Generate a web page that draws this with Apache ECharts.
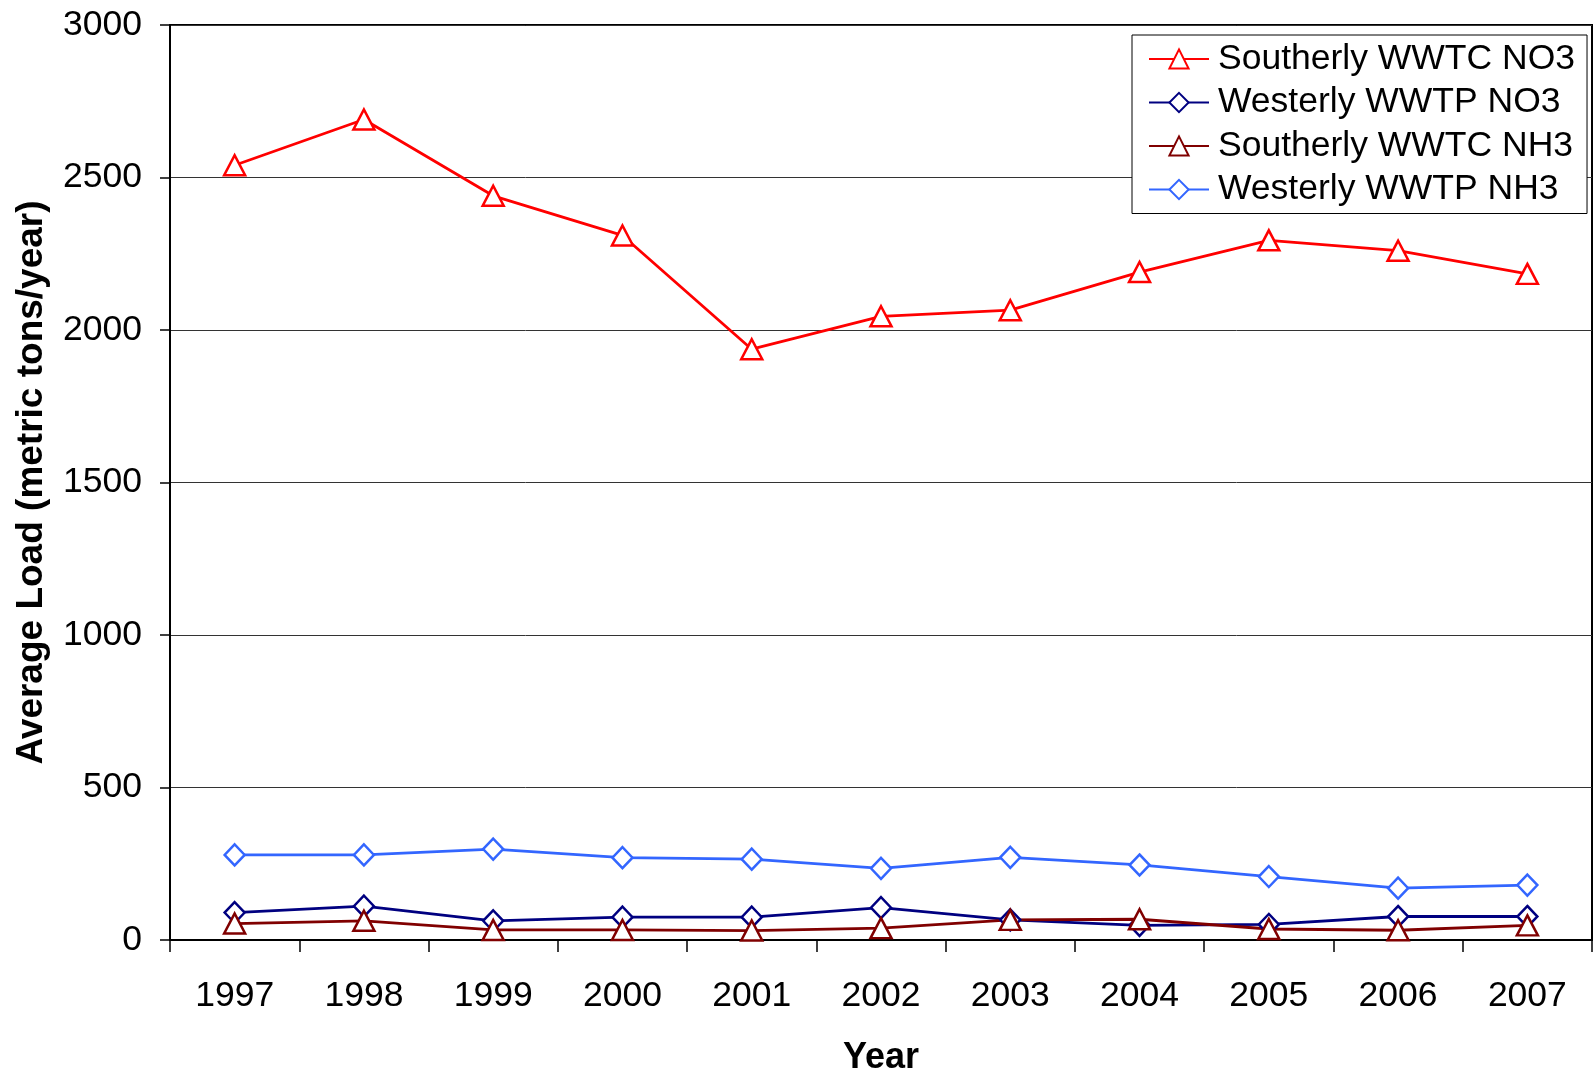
<!DOCTYPE html>
<html>
<head>
<meta charset="utf-8">
<script src="https://cdn.jsdelivr.net/npm/echarts@6/dist/echarts.min.js"></script>
<style>
  html, body { margin: 0; padding: 0; background: #fff; }
  #chart { width: 1594px; height: 1074px; }
</style>
</head>
<body>
<div id="chart"></div>
<script>
// data
const years = ['1997', '1998', '1999', '2000', '2001', '2002', '2003', '2004', '2005', '2006', '2007'];

const southerlyNO3 = [2540, 2690, 2440, 2310, 1937, 2045, 2065, 2190, 2294, 2260, 2184];
const westerlyNO3 = [90, 111, 63, 75, 75, 106, 66, 48, 51, 77, 77];
const southerlyNH3 = [54, 63, 33, 33, 31, 39, 66, 68, 36, 32, 48];
const westerlyNH3 = [279, 279, 298, 270, 265, 235, 271, 246, 208, 170, 180];

const FONT = "'Liberation Sans', Arial, sans-serif";

const makeSeries = (name, data, color, symbol, size) => ({
  name,
  type: 'line',
  data,
  symbol,
  symbolSize: size,
  showSymbol: true,
  lineStyle: { color, width: 2.8 },
  itemStyle: { color: '#fff', borderColor: color, borderWidth: 2.5 }
});

const chart = echarts.init(document.getElementById('chart'));

chart.setOption({
  animation: false,
  grid: {
    left: 170,
    right: 2,
    top: 25,
    bottom: 134,
    show: true,
    borderColor: '#000',
    borderWidth: 2,
    containLabel: false,
    outerBoundsMode: 'none'
  },
  legend: {
    left: 1132,
    top: 35,
    orient: 'vertical',
    backgroundColor: '#fff',
    borderColor: '#000',
    borderWidth: 1,
    padding: [4, 12, 4, 16],
    itemWidth: 60,
    itemHeight: 24,
    itemGap: 3.5,
    textStyle: {
      fontFamily: FONT,
      fontSize: 35.5,
      lineHeight: 40,
      color: '#000',
      padding: [0, 0, 0, 4]
    }
  },
  xAxis: {
    type: 'category',
    data: years,
    boundaryGap: true,
    name: 'Year',
    nameLocation: 'middle',
    nameGap: 100,
    nameTextStyle: { fontFamily: FONT, fontSize: 36, fontWeight: 'bold', color: '#000' },
    axisLine: { lineStyle: { color: '#000', width: 2 } },
    axisTick: { show: true, length: 12, inside: false, lineStyle: { color: '#000', width: 1.5 } },
    axisLabel: { fontFamily: FONT, fontSize: 35.5, color: '#000', margin: 38 },
    splitLine: { show: false }
  },
  yAxis: {
    type: 'value',
    min: 0,
    max: 3000,
    interval: 500,
    name: 'Average Load (metric tons/year)',
    nameLocation: 'middle',
    nameGap: 120,
    nameTextStyle: { fontFamily: FONT, fontSize: 37, fontWeight: 'bold', color: '#000' },
    axisLine: { show: true, lineStyle: { color: '#000', width: 2 } },
    axisTick: { show: true, length: 10, lineStyle: { color: '#000', width: 1.5 } },
    axisLabel: {
      fontFamily: FONT,
      fontSize: 35.5,
      color: '#000',
      margin: 28,
      formatter: value => String(value)
    },
    splitLine: { show: true, lineStyle: { color: '#333', width: 1 } }
  },
  series: [
    makeSeries('Southerly WWTC NO3', southerlyNO3, '#ff0000', 'triangle', [21, 20]),
    makeSeries('Westerly WWTP NO3', westerlyNO3, '#000080', 'diamond', [20, 21]),
    makeSeries('Southerly WWTC NH3', southerlyNH3, '#800000', 'triangle', [21, 20]),
    makeSeries('Westerly WWTP NH3', westerlyNH3, '#3366ff', 'diamond', [20, 21])
  ]
});
</script>
</body>
</html>
